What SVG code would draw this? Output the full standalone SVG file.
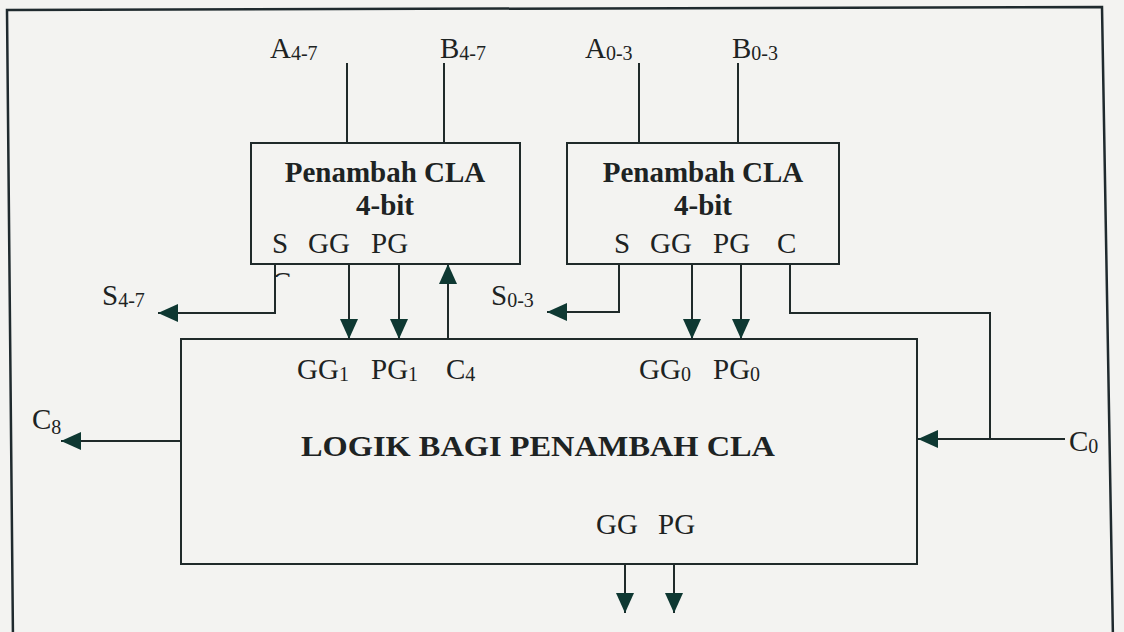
<svg xmlns="http://www.w3.org/2000/svg" width="1124" height="632" viewBox="0 0 1124 632">
<style>
.bg{fill:#f3f3f1}
.frame{fill:none;stroke:#1f2a2e;stroke-width:2.5}
.ln{stroke:#1f2a2a;stroke-width:2;fill:none}
.box{fill:none;stroke:#1f2a2a;stroke-width:2}
.t{font-family:"Liberation Serif","Times New Roman",serif;font-size:29px;fill:#1d2323}
.b{font-weight:bold}
.sub{font-size:20px}
.ah{fill:#0e3832}
</style>
<defs>
<marker id="arr" markerWidth="20" markerHeight="20" refX="20" refY="10" orient="auto" markerUnits="userSpaceOnUse" viewBox="0 0 20 20"><path d="M0,1 L20,10 L0,19 Z" class="ah"/></marker>
<clipPath id="clipC"><rect x="270" y="265" width="30" height="12"/></clipPath>
</defs>
<rect class="bg" x="0" y="0" width="1124" height="632"/>
<path class="frame" d="M7,10 L1102,7 L1113,640 L13,640 Z"/>

<g id="connectors">
<path class="ln" d="M347,63 V143"/>
<path class="ln" d="M444,63 V143"/>
<path class="ln" d="M639,63 V143"/>
<path class="ln" d="M738,63 V143"/>
<path class="ln" d="M275,264 V313 H158" marker-end="url(#arr)"/>
<path class="ln" d="M349,264 V339" marker-end="url(#arr)"/>
<path class="ln" d="M399,264 V339" marker-end="url(#arr)"/>
<path class="ln" d="M448,339 V264" marker-end="url(#arr)"/>
<path class="ln" d="M619,264 V312 H547" marker-end="url(#arr)"/>
<path class="ln" d="M692,264 V339" marker-end="url(#arr)"/>
<path class="ln" d="M741,264 V339" marker-end="url(#arr)"/>
<path class="ln" d="M790,264 V313 H990 V439"/>
<path class="ln" d="M1065,439 H918" marker-end="url(#arr)"/>
<path class="ln" d="M181,441 H61" marker-end="url(#arr)"/>
<path class="ln" d="M625,564 V613" marker-end="url(#arr)"/>
<path class="ln" d="M674,564 V613" marker-end="url(#arr)"/>
</g>

<g id="labels">
<text class="t" x="270" y="58">A<tspan class="sub" dy="2">4-7</tspan></text>
<text class="t" x="440" y="58">B<tspan class="sub" dy="2">4-7</tspan></text>
<text class="t" x="585" y="58">A<tspan class="sub" dy="2">0-3</tspan></text>
<text class="t" x="732" y="58">B<tspan class="sub" dy="2">0-3</tspan></text>
<text class="t" x="102" y="305">S<tspan class="sub" dy="2">4-7</tspan></text>
<text class="t" x="491" y="305">S<tspan class="sub" dy="2">0-3</tspan></text>
<text class="t" x="32" y="429">C<tspan class="sub" dy="5">8</tspan></text>
<text class="t" x="1069" y="451">C<tspan class="sub" dy="2">0</tspan></text>
<text class="t" x="272" y="292" clip-path="url(#clipC)">C</text>
</g>

<g id="cla-4-7">
<rect class="box" x="251" y="143" width="269" height="121"/>
<text class="t b" x="385" y="182" text-anchor="middle">Penambah CLA</text>
<text class="t b" x="385" y="215" text-anchor="middle">4-bit</text>
<text class="t" x="272" y="253">S</text>
<text class="t" x="308" y="253">GG</text>
<text class="t" x="371" y="253">PG</text>
</g>

<g id="cla-0-3">
<rect class="box" x="567" y="143" width="272" height="121"/>
<text class="t b" x="703" y="182" text-anchor="middle">Penambah CLA</text>
<text class="t b" x="703" y="215" text-anchor="middle">4-bit</text>
<text class="t" x="614" y="253">S</text>
<text class="t" x="650" y="253">GG</text>
<text class="t" x="713" y="253">PG</text>
<text class="t" x="777" y="253">C</text>
</g>

<g id="logik">
<rect class="box" x="181" y="339" width="736" height="225"/>
<text class="t" x="297" y="379">GG<tspan class="sub" dy="2">1</tspan></text>
<text class="t" x="371" y="379">PG<tspan class="sub" dy="2">1</tspan></text>
<text class="t" x="446" y="379">C<tspan class="sub" dy="2">4</tspan></text>
<text class="t" x="639" y="379">GG<tspan class="sub" dy="2">0</tspan></text>
<text class="t" x="713" y="379">PG<tspan class="sub" dy="2">0</tspan></text>
<text class="t b" x="301" y="456" textLength="474" lengthAdjust="spacingAndGlyphs">LOGIK BAGI PENAMBAH CLA</text>
<text class="t" x="596" y="534">GG</text>
<text class="t" x="658" y="534">PG</text>
</g>
</svg>
